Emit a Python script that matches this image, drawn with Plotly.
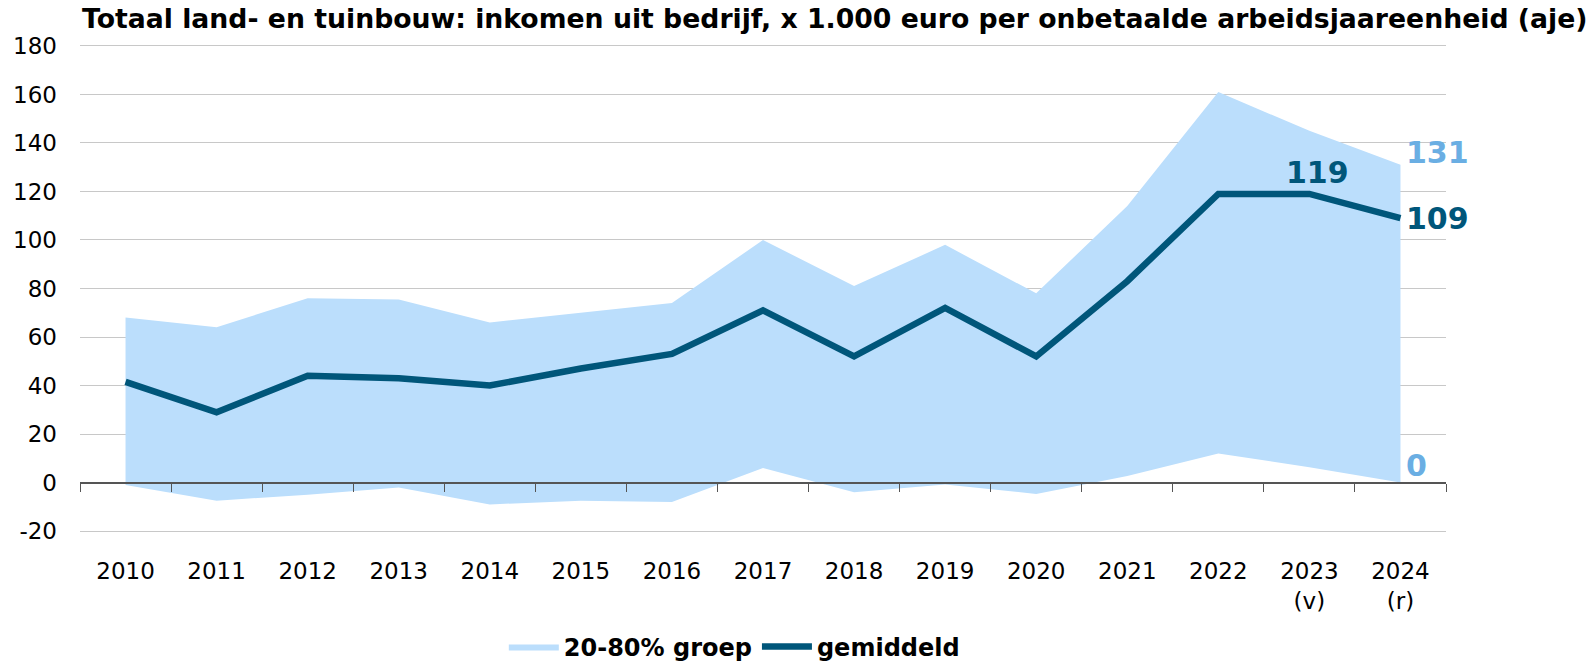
import plotly.graph_objects as go

years = ["2010", "2011", "2012", "2013", "2014", "2015", "2016", "2017",
         "2018", "2019", "2020", "2021", "2022", "2023", "2024"]
tick_labels = ["2010", "2011", "2012", "2013", "2014", "2015", "2016", "2017",
               "2018", "2019", "2020", "2021", "2022", "2023<br>(v)", "2024<br>(r)"]
y_ticks = [-20, 0, 20, 40, 60, 80, 100, 120, 140, 160, 180]
y_tick_labels = ["-20", "0", "20", "40", "60", "80", "100", "120", "140", "160", "180"]
gemiddeld = [41.5, 29, 44, 43, 40, 47, 53, 71, 52, 72, 52, 83, 119, 119, 109]
upper_80 = [68, 64, 76, 75.5, 66, 70, 74, 100, 81, 98, 78, 114, 161, 145, 131]
lower_20 = [-1, -7.5, -5, -2, -9, -7.5, -8, 6, -4, -0.8, -4.7, 2.7, 12, 6.3, 0]

DARK = "#00567A"
LIGHT_FILL = "#BBDEFC"
LIGHT_TXT = "#6AAEE3"
FONT = "DejaVu Sans"

Y_MIN, Y_MAX, PAD = -20, 180, 0.8

fig = go.Figure()
fig.add_trace(go.Scatter(x=years, y=lower_20, mode="lines", line=dict(width=0, color=LIGHT_FILL),
                         showlegend=False, hoverinfo="skip"))
fig.add_trace(go.Scatter(x=years, y=upper_80, mode="lines", line=dict(width=0, color=LIGHT_FILL),
                         fill="tonexty", fillcolor=LIGHT_FILL, name="20-80% groep"))
fig.add_trace(go.Scatter(x=years, y=gemiddeld, mode="lines",
                         line=dict(width=6.5, color=DARK), name="gemiddeld"))
# invisible trace for the tick axis at zero
fig.add_trace(go.Scatter(x=years, y=gemiddeld, xaxis="x2", mode="lines",
                         line=dict(width=0), showlegend=False, hoverinfo="skip", opacity=0))

n = len(years)
ann = []
ann.append(dict(x=n - 1, y=upper_80[-1], text=f"<b>{upper_80[-1]:.0f}</b>", showarrow=False,
                xanchor="left", yanchor="middle", xshift=4, yshift=12,
                font=dict(family=FONT, size=30, color=LIGHT_TXT)))
ann.append(dict(x=n - 1, y=gemiddeld[-1], text=f"<b>{gemiddeld[-1]:.0f}</b>", showarrow=False,
                xanchor="left", yanchor="middle", xshift=4, yshift=0,
                font=dict(family=FONT, size=30, color=DARK)))
ann.append(dict(x=n - 2, y=gemiddeld[-2], text=f"<b>{gemiddeld[-2]:.0f}</b>", showarrow=False,
                xanchor="center", yanchor="bottom", xshift=8, yshift=2,
                font=dict(family=FONT, size=30, color=DARK)))
ann.append(dict(x=n - 1, y=lower_20[-1], text=f"<b>{lower_20[-1]:.0f}</b>", showarrow=False,
                xanchor="left", yanchor="middle", xshift=4, yshift=17,
                font=dict(family=FONT, size=30, color=LIGHT_TXT)))

zero_pos = (0 - (Y_MIN - PAD)) / ((Y_MAX + PAD) - (Y_MIN - PAD))

fig.update_layout(
    width=1595, height=663,
    margin=dict(l=80, r=149, t=44, b=130, autoexpand=False),
    paper_bgcolor="white", plot_bgcolor="white",
    title=dict(text="<b>Totaal land- en tuinbouw: inkomen uit bedrijf, x 1.000 euro per onbetaalde arbeidsjaareenheid (aje)</b>",
               x=82 / 1595, xref="container", xanchor="left", y=1 - 19 / 663, yanchor="middle", yref="container",
               font=dict(family=FONT, size=26.7, color="black")),
    font=dict(family=FONT, size=23, color="black"),
    xaxis=dict(type="category", tickmode="array", tickvals=years, ticktext=tick_labels,
               showgrid=False, showline=False, ticks="", tickfont=dict(size=23, color="black"),
               ticklabelstandoff=22, range=[-0.5, n - 0.5]),
    xaxis2=dict(type="category", overlaying="x", anchor="free", position=zero_pos, matches="x",
                showgrid=False, showline=True, linecolor="#555", linewidth=2,
                ticks="outside", tickson="boundaries", ticklen=8, tickcolor="#555", tickwidth=1,
                showticklabels=False),
    yaxis=dict(range=[Y_MIN - PAD, Y_MAX + PAD], tickmode="array", tickvals=y_ticks, ticktext=y_tick_labels,
               showgrid=True, gridcolor="#C8C8C8", gridwidth=1,
               zeroline=False, showline=False, ticks="", tickfont=dict(size=23, color="black"),
               ticklabelstandoff=22),
    legend=dict(orientation="h", x=0.479, xanchor="center", xref="paper", traceorder="normal",
                y=16 / 663, yanchor="middle", yref="container",
                font=dict(family=FONT, size=24, color="black", weight="bold"), itemwidth=50),
    annotations=ann,
    showlegend=True,
)

fig.write_html("out.html", config={"displayModeBar": False},
               post_script="document.body.style.margin='0';document.body.style.overflow='hidden';")
